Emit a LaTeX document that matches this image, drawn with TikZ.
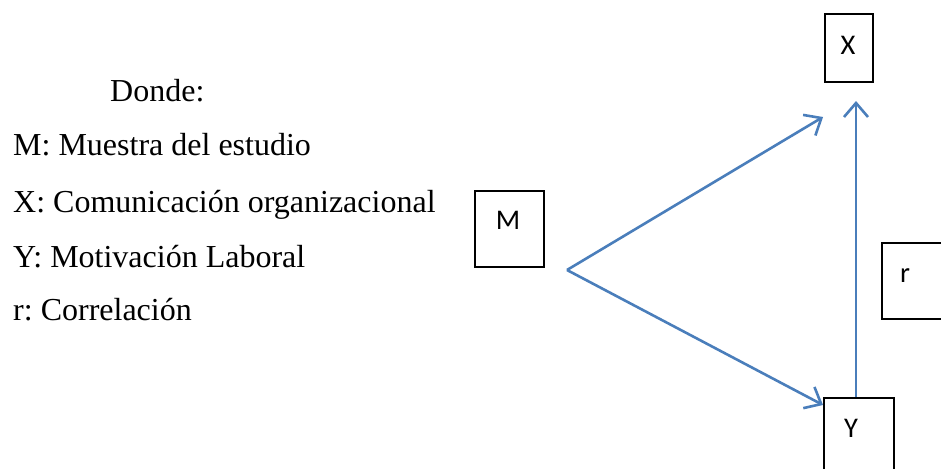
\documentclass[tikz,border=0pt]{standalone}
\usepackage{fontspec}
\setmainfont{Liberation Serif}
\newfontfamily\boxfont{Carlito}
\usetikzlibrary{arrows.meta}
\definecolor{arrowblue}{RGB}{74,126,187}
\frenchspacing
\begin{document}
\begin{tikzpicture}[x=1pt,y=-1pt,
  varbox/.style={draw=black,line width=2pt,rectangle,inner sep=0pt},
  boxlabel/.style={font=\boxfont\fontsize{28.5}{28.5}\selectfont,inner sep=0pt,anchor=base},
  legend/.style={font=\frenchspacing\fontsize{32}{34}\selectfont,inner sep=0pt,anchor=base west},
  conn/.style={draw=arrowblue,line width=2.6pt,-{Straight Barb[length=14pt,width=24pt,line width=2.6pt]}}]
\useasboundingbox (0,0) rectangle (941,468);
\clip (0,0) rectangle (941,468);
% legend
\node[legend] (donde) at (110,102) {Donde:};
\node[legend] (lm) at (13,155) {M: Muestra del estudio};
\node[legend] (lx) at (13,212) {X: Comunicación organizacional};
\node[legend] (ly) at (13,267) {Y: Motivación Laboral};
\node[legend] (lr) at (13,320) {r: Correlación};
% boxes
\node[varbox,minimum width=69pt,minimum height=76pt,anchor=north west] (mbox) at (474,190) {};
\node[boxlabel] (mt) at (508,229) {M};
\node[varbox,minimum width=48pt,minimum height=68pt,anchor=north west] (xbox) at (824,13) {};
\node[boxlabel] (xt) at (848,55) {X};
\node[varbox,minimum width=70pt,minimum height=76pt,anchor=north west] (rbox) at (881,242) {};
\node[boxlabel] (rt) at (905,282) {r};
\node[varbox,minimum width=70pt,minimum height=80pt,anchor=north west] (ybox) at (823,397) {};
\node[boxlabel] (yt) at (851,437) {Y};
% connectors
\coordinate (j) at (567,270);
\coordinate (xtip) at (823,117);
\coordinate (ytip) at (823,405);
\coordinate (vtip) at (856,101);
\coordinate (vstart) at (856,397);
\draw[conn] (j) -- (xtip);
\draw[conn] (j) -- (ytip);
\draw[conn] (vstart) -- (vtip);
\end{tikzpicture}
\end{document}
